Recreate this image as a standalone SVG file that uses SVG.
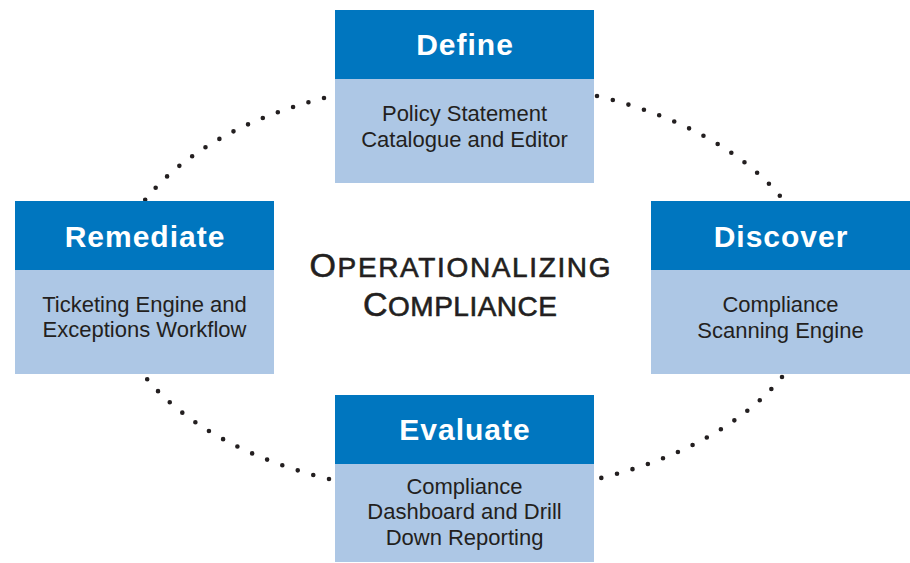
<svg xmlns="http://www.w3.org/2000/svg" width="910" height="563" viewBox="0 0 910 563">
  <style>
    .hdr { fill: #0076BF; }
    .body { fill: #ADC7E5; }
    .htxt { font-family: "Liberation Sans", Arial, sans-serif; font-weight: bold; font-size: 30px; fill: #FFFFFF; text-anchor: middle; letter-spacing: 1px; }
    .btxt { font-family: "Liberation Sans", Arial, sans-serif; font-size: 22px; fill: #231F20; text-anchor: middle; }
    .title { font-family: "Liberation Sans", Arial, sans-serif; fill: #231F20; stroke: #231F20; stroke-width: 0.6px; text-anchor: middle; }
    .dots { fill: none; stroke: #231F20; stroke-width: 4.6; stroke-linecap: round; stroke-dasharray: 0 1; }
  </style>
  <rect width="910" height="563" fill="#FFFFFF"/>
  <g id="connectors">
    <path class="dots" pathLength="13.02" d="M324,98 A352,206 0 0 0 145,200"/>
    <path class="dots" pathLength="13.02" d="M597,96 A352,206 0 0 1 780,196"/>
    <path class="dots" pathLength="13.02" d="M782,377 A352,206 0 0 1 601,478"/>
    <path class="dots" pathLength="13.02" d="M329,479 A352,206 0 0 1 147,379"/>
  </g>
  <g id="define">
    <rect class="hdr" x="335" y="10" width="259" height="69"/>
    <rect class="body" x="335" y="79" width="259" height="104"/>
    <text class="htxt" x="465" y="55">Define</text>
    <text class="btxt" x="464.5" y="121">Policy Statement</text>
    <text class="btxt" x="464.5" y="147">Catalogue and Editor</text>
  </g>
  <g id="remediate">
    <rect class="hdr" x="15" y="201" width="259" height="69"/>
    <rect class="body" x="15" y="270" width="259" height="104"/>
    <text class="htxt" x="145" y="247">Remediate</text>
    <text class="btxt" x="144.5" y="312">Ticketing Engine and</text>
    <text class="btxt" x="144.5" y="337">Exceptions Workflow</text>
  </g>
  <g id="discover">
    <rect class="hdr" x="651" y="201" width="259" height="69"/>
    <rect class="body" x="651" y="270" width="259" height="104"/>
    <text class="htxt" x="781" y="247">Discover</text>
    <text class="btxt" x="780.5" y="312">Compliance</text>
    <text class="btxt" x="780.5" y="338">Scanning Engine</text>
  </g>
  <g id="evaluate">
    <rect class="hdr" x="335" y="395" width="259" height="69"/>
    <rect class="body" x="335" y="464" width="259" height="98"/>
    <text class="htxt" x="465" y="440">Evaluate</text>
    <text class="btxt" x="464.5" y="494">Compliance</text>
    <text class="btxt" x="464.5" y="519">Dashboard and Drill</text>
    <text class="btxt" x="464.5" y="545">Down Reporting</text>
  </g>
  <g id="title">
    <text class="title" x="460" y="277" textLength="301" lengthAdjust="spacing"><tspan font-size="34">O</tspan><tspan font-size="28">PERATIONALIZING</tspan></text>
    <text class="title" x="460" y="316" textLength="194" lengthAdjust="spacing"><tspan font-size="34">C</tspan><tspan font-size="28">OMPLIANCE</tspan></text>
  </g>
</svg>
